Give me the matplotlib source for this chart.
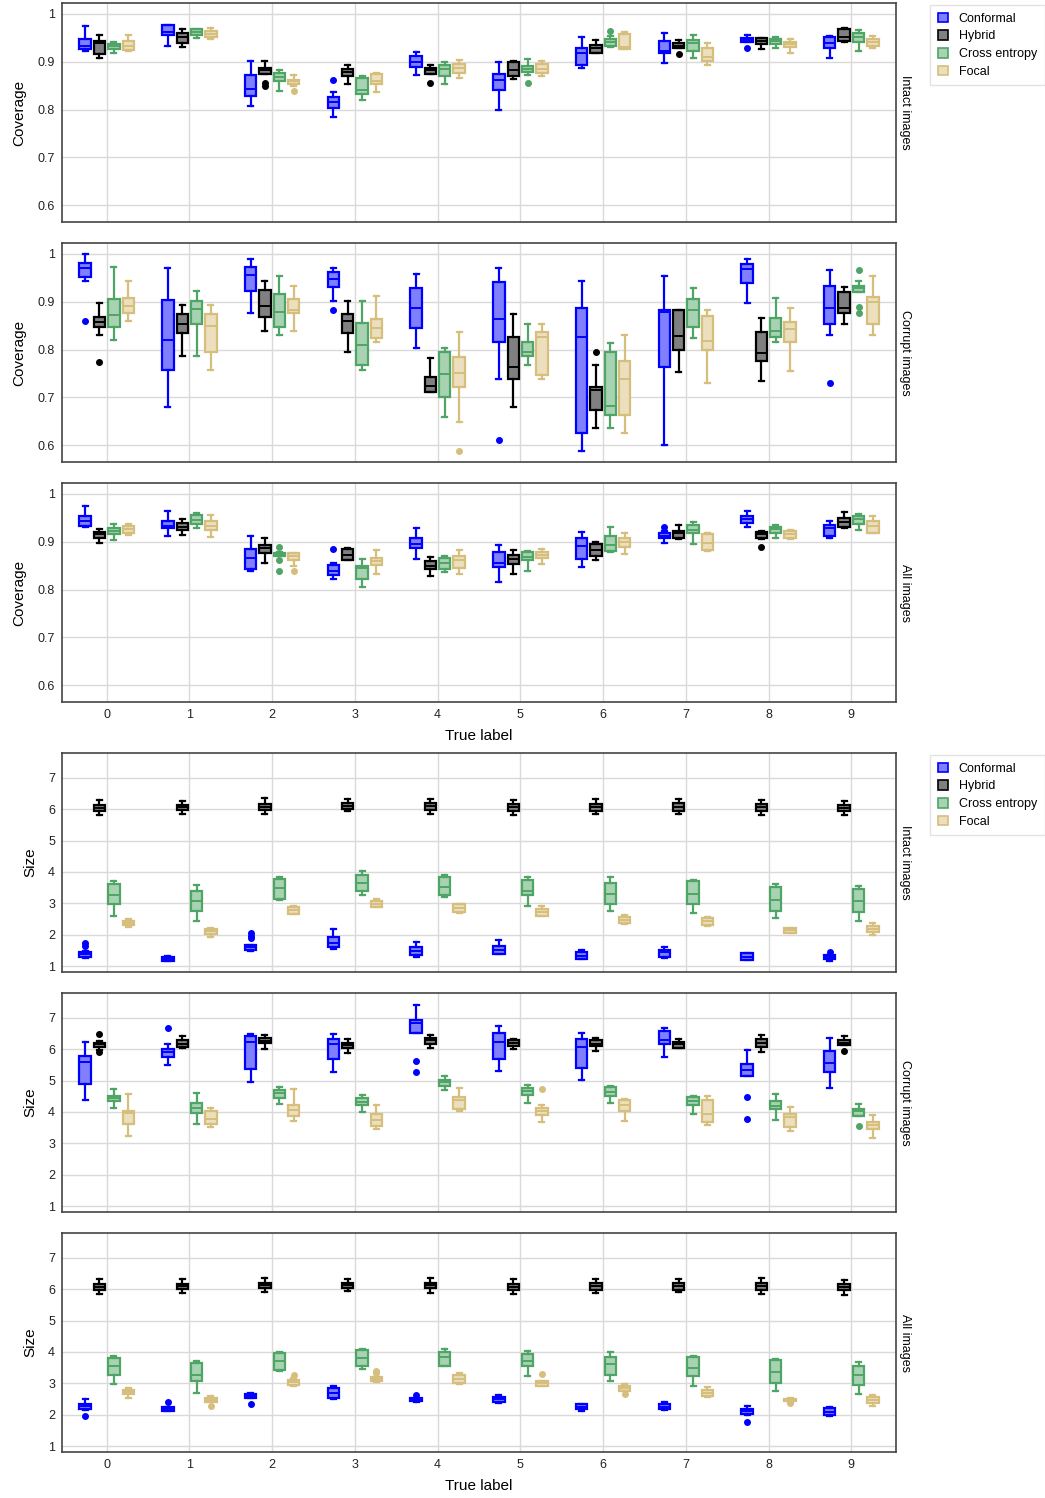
import numpy as np
import matplotlib
matplotlib.use('Agg')
import matplotlib.pyplot as plt
from matplotlib.patches import Patch
from matplotlib.ticker import FuncFormatter

plt.rcParams['font.family'] = ['Liberation Sans', 'DejaVu Sans']

methods = ['Conformal', 'Hybrid', 'Cross entropy', 'Focal']
edge_colors = ['#0000ff', '#000000', '#4fa565', '#d6bf7d']
fill_colors = ['#8080ff', '#808080', '#a8d3b2', '#ebdfbe']
class_labels = [str(i) for i in range(10)]

# each entry: (whisker low, q1, median, q3, whisker high, fliers)
cov_intact_conf = [
    (0.923, 0.926, 0.933, 0.947, 0.975, []),
    (0.934, 0.957, 0.963, 0.976, 0.978, []),
    (0.808, 0.828, 0.843, 0.873, 0.902, []),
    (0.784, 0.804, 0.815, 0.826, 0.836, [0.863]),
    (0.873, 0.889, 0.900, 0.913, 0.920, []),
    (0.799, 0.841, 0.863, 0.875, 0.900, []),
    (0.887, 0.893, 0.918, 0.928, 0.951, []),
    (0.898, 0.918, 0.923, 0.943, 0.960, []),
    (0.941, 0.941, 0.945, 0.949, 0.957, [0.929]),
    (0.909, 0.929, 0.940, 0.951, 0.953, []),
]
cov_intact_hyb = [
    (0.909, 0.916, 0.939, 0.944, 0.957, []),
    (0.932, 0.939, 0.951, 0.960, 0.969, []),
    (0.875, 0.875, 0.882, 0.888, 0.902, [0.855, 0.850]),
    (0.854, 0.870, 0.879, 0.886, 0.894, []),
    (0.875, 0.875, 0.882, 0.888, 0.893, [0.856]),
    (0.865, 0.870, 0.882, 0.900, 0.902, []),
    (0.918, 0.918, 0.928, 0.936, 0.946, []),
    (0.928, 0.928, 0.934, 0.939, 0.945, [0.916]),
    (0.926, 0.938, 0.944, 0.950, 0.950, []),
    (0.941, 0.943, 0.951, 0.969, 0.970, []),
]
cov_intact_ce = [
    (0.919, 0.927, 0.933, 0.938, 0.941, []),
    (0.949, 0.957, 0.963, 0.969, 0.969, []),
    (0.840, 0.860, 0.869, 0.876, 0.883, []),
    (0.820, 0.832, 0.841, 0.867, 0.870, []),
    (0.854, 0.870, 0.886, 0.893, 0.900, []),
    (0.873, 0.879, 0.885, 0.891, 0.905, [0.855]),
    (0.932, 0.933, 0.941, 0.947, 0.955, [0.964]),
    (0.907, 0.922, 0.939, 0.946, 0.957, []),
    (0.928, 0.938, 0.943, 0.947, 0.952, []),
    (0.923, 0.941, 0.951, 0.960, 0.967, []),
]
cov_intact_foc = [
    (0.923, 0.925, 0.934, 0.944, 0.957, []),
    (0.947, 0.951, 0.958, 0.965, 0.971, []),
    (0.850, 0.854, 0.859, 0.863, 0.873, [0.838]),
    (0.836, 0.854, 0.860, 0.875, 0.877, []),
    (0.866, 0.877, 0.887, 0.895, 0.904, []),
    (0.870, 0.876, 0.886, 0.895, 0.902, []),
    (0.926, 0.926, 0.932, 0.959, 0.962, []),
    (0.893, 0.902, 0.911, 0.928, 0.940, []),
    (0.918, 0.930, 0.937, 0.942, 0.948, []),
    (0.929, 0.933, 0.941, 0.948, 0.955, []),
]

cov_corrupt_conf = [
    (0.943, 0.951, 0.971, 0.982, 1.000, [0.859]),
    (0.680, 0.757, 0.821, 0.903, 0.971, []),
    (0.877, 0.923, 0.957, 0.972, 0.990, []),
    (0.902, 0.931, 0.947, 0.962, 0.971, [0.883]),
    (0.803, 0.845, 0.887, 0.928, 0.959, []),
    (0.738, 0.816, 0.865, 0.942, 0.971, [0.612]),
    (0.589, 0.626, 0.827, 0.888, 0.944, []),
    (0.601, 0.764, 0.879, 0.883, 0.953, []),
    (0.898, 0.939, 0.969, 0.980, 0.990, []),
    (0.831, 0.854, 0.888, 0.933, 0.967, [0.730]),
]
cov_corrupt_hyb = [
    (0.830, 0.848, 0.858, 0.868, 0.897, [0.774]),
    (0.786, 0.834, 0.854, 0.875, 0.893, []),
    (0.840, 0.868, 0.892, 0.925, 0.944, []),
    (0.796, 0.834, 0.860, 0.875, 0.902, []),
    (0.711, 0.711, 0.723, 0.743, 0.783, []),
    (0.680, 0.738, 0.763, 0.826, 0.874, []),
    (0.636, 0.673, 0.716, 0.721, 0.767, [0.794]),
    (0.753, 0.800, 0.829, 0.883, 0.883, []),
    (0.735, 0.776, 0.792, 0.837, 0.867, []),
    (0.854, 0.877, 0.888, 0.921, 0.932, []),
]
cov_corrupt_ce = [
    (0.821, 0.848, 0.873, 0.905, 0.972, []),
    (0.786, 0.854, 0.884, 0.902, 0.923, []),
    (0.830, 0.848, 0.878, 0.916, 0.953, []),
    (0.758, 0.767, 0.810, 0.855, 0.902, []),
    (0.660, 0.700, 0.748, 0.794, 0.804, []),
    (0.767, 0.787, 0.795, 0.816, 0.854, []),
    (0.636, 0.663, 0.683, 0.794, 0.813, []),
    (0.824, 0.847, 0.883, 0.906, 0.929, []),
    (0.817, 0.826, 0.838, 0.867, 0.909, []),
    (0.921, 0.921, 0.928, 0.933, 0.944, [0.967, 0.889, 0.877]),
]
cov_corrupt_foc = [
    (0.859, 0.877, 0.892, 0.907, 0.944, []),
    (0.758, 0.795, 0.849, 0.875, 0.893, []),
    (0.840, 0.877, 0.882, 0.906, 0.934, []),
    (0.816, 0.825, 0.845, 0.864, 0.913, []),
    (0.649, 0.722, 0.752, 0.784, 0.836, [0.588]),
    (0.738, 0.747, 0.826, 0.836, 0.854, []),
    (0.626, 0.663, 0.739, 0.776, 0.831, []),
    (0.730, 0.800, 0.819, 0.870, 0.883, []),
    (0.756, 0.816, 0.843, 0.858, 0.888, []),
    (0.831, 0.854, 0.900, 0.910, 0.955, []),
]

cov_all_conf = [
    (0.930, 0.934, 0.943, 0.953, 0.975, []),
    (0.913, 0.928, 0.934, 0.944, 0.964, []),
    (0.839, 0.844, 0.867, 0.885, 0.912, []),
    (0.823, 0.831, 0.840, 0.852, 0.856, [0.884]),
    (0.864, 0.887, 0.895, 0.909, 0.928, []),
    (0.817, 0.848, 0.856, 0.878, 0.893, []),
    (0.848, 0.864, 0.891, 0.909, 0.920, []),
    (0.898, 0.907, 0.913, 0.918, 0.922, [0.932]),
    (0.932, 0.940, 0.948, 0.955, 0.964, []),
    (0.909, 0.913, 0.928, 0.936, 0.943, []),
]
cov_all_hyb = [
    (0.898, 0.908, 0.916, 0.920, 0.926, []),
    (0.915, 0.925, 0.932, 0.939, 0.948, []),
    (0.856, 0.877, 0.888, 0.894, 0.907, []),
    (0.862, 0.862, 0.872, 0.884, 0.888, []),
    (0.829, 0.843, 0.850, 0.859, 0.868, []),
    (0.833, 0.854, 0.864, 0.872, 0.883, []),
    (0.861, 0.871, 0.883, 0.895, 0.900, []),
    (0.906, 0.909, 0.918, 0.923, 0.935, []),
    (0.906, 0.909, 0.916, 0.921, 0.923, [0.889]),
    (0.928, 0.932, 0.941, 0.950, 0.963, []),
]
cov_all_ce = [
    (0.904, 0.916, 0.923, 0.928, 0.938, []),
    (0.928, 0.937, 0.946, 0.957, 0.960, []),
    (0.870, 0.870, 0.873, 0.877, 0.878, [0.890, 0.861, 0.840]),
    (0.806, 0.822, 0.845, 0.850, 0.864, []),
    (0.836, 0.843, 0.856, 0.866, 0.870, []),
    (0.839, 0.861, 0.869, 0.879, 0.881, []),
    (0.879, 0.881, 0.893, 0.913, 0.932, []),
    (0.895, 0.918, 0.925, 0.935, 0.942, []),
    (0.908, 0.918, 0.926, 0.932, 0.936, []),
    (0.924, 0.938, 0.947, 0.954, 0.959, []),
]
cov_all_foc = [
    (0.915, 0.918, 0.927, 0.934, 0.938, []),
    (0.910, 0.925, 0.934, 0.944, 0.957, []),
    (0.850, 0.862, 0.870, 0.876, 0.877, [0.839]),
    (0.833, 0.851, 0.860, 0.866, 0.882, []),
    (0.833, 0.845, 0.862, 0.870, 0.882, []),
    (0.853, 0.866, 0.872, 0.879, 0.885, []),
    (0.875, 0.890, 0.900, 0.909, 0.918, []),
    (0.881, 0.882, 0.898, 0.916, 0.918, []),
    (0.905, 0.909, 0.916, 0.923, 0.925, []),
    (0.919, 0.919, 0.933, 0.944, 0.955, []),
]

size_intact_conf = [
    (1.25, 1.30, 1.37, 1.45, 1.47, [1.72, 1.65]),
    (1.15, 1.16, 1.24, 1.30, 1.33, []),
    (1.48, 1.51, 1.60, 1.67, 1.67, [2.04, 1.96, 1.88]),
    (1.55, 1.60, 1.72, 1.92, 2.17, []),
    (1.29, 1.36, 1.47, 1.60, 1.77, []),
    (1.37, 1.37, 1.50, 1.64, 1.82, []),
    (1.21, 1.22, 1.33, 1.44, 1.51, []),
    (1.25, 1.28, 1.44, 1.51, 1.61, []),
    (1.18, 1.19, 1.30, 1.41, 1.42, []),
    (1.16, 1.22, 1.30, 1.35, 1.35, [1.46]),
]
size_intact_hyb = [
    (5.81, 5.94, 6.04, 6.13, 6.30, []),
    (5.83, 5.97, 6.06, 6.14, 6.27, []),
    (5.86, 5.98, 6.08, 6.16, 6.34, []),
    (5.93, 6.01, 6.11, 6.19, 6.33, []),
    (5.84, 5.97, 6.09, 6.19, 6.33, []),
    (5.81, 5.95, 6.06, 6.15, 6.30, []),
    (5.84, 5.93, 6.06, 6.16, 6.32, []),
    (5.86, 5.94, 6.08, 6.19, 6.32, []),
    (5.81, 5.94, 6.06, 6.16, 6.30, []),
    (5.80, 5.95, 6.04, 6.13, 6.26, []),
]
size_intact_ce = [
    (2.61, 2.97, 3.25, 3.60, 3.71, []),
    (2.45, 2.74, 3.08, 3.38, 3.58, []),
    (3.10, 3.15, 3.49, 3.77, 3.85, []),
    (3.28, 3.38, 3.66, 3.89, 4.04, []),
    (3.20, 3.28, 3.53, 3.83, 3.91, []),
    (2.92, 3.25, 3.40, 3.74, 3.85, []),
    (2.74, 2.98, 3.30, 3.65, 3.84, []),
    (2.69, 2.99, 3.30, 3.71, 3.75, []),
    (2.53, 2.76, 3.10, 3.53, 3.62, []),
    (2.44, 2.72, 3.07, 3.44, 3.55, []),
]
size_intact_foc = [
    (2.23, 2.31, 2.37, 2.44, 2.50, []),
    (1.94, 2.03, 2.11, 2.18, 2.22, []),
    (2.66, 2.66, 2.78, 2.89, 2.91, []),
    (2.87, 2.87, 2.99, 3.07, 3.15, []),
    (2.68, 2.71, 2.84, 2.97, 2.98, []),
    (2.61, 2.61, 2.71, 2.82, 2.92, []),
    (2.35, 2.36, 2.47, 2.55, 2.64, []),
    (2.28, 2.30, 2.42, 2.53, 2.55, []),
    (2.06, 2.06, 2.15, 2.21, 2.22, []),
    (1.99, 2.08, 2.19, 2.29, 2.36, []),
]

size_corrupt_conf = [
    (4.39, 4.88, 5.60, 5.78, 6.24, []),
    (5.48, 5.75, 5.91, 6.02, 6.18, [6.69]),
    (4.96, 5.38, 6.23, 6.43, 6.47, []),
    (5.26, 5.69, 6.16, 6.33, 6.49, []),
    (6.52, 6.52, 6.84, 6.94, 7.42, [5.61, 5.27]),
    (5.31, 5.70, 6.24, 6.51, 6.75, []),
    (5.01, 5.40, 6.06, 6.33, 6.53, []),
    (5.75, 6.18, 6.29, 6.59, 6.66, []),
    (5.15, 5.15, 5.35, 5.54, 5.97, [4.46, 3.77]),
    (4.76, 5.26, 5.55, 5.93, 6.34, []),
]
size_corrupt_hyb = [
    (5.97, 6.08, 6.15, 6.20, 6.26, [6.47, 5.90]),
    (6.03, 6.06, 6.18, 6.29, 6.42, []),
    (6.02, 6.19, 6.27, 6.35, 6.45, []),
    (5.87, 6.04, 6.14, 6.21, 6.31, []),
    (6.04, 6.16, 6.28, 6.37, 6.45, []),
    (6.00, 6.11, 6.20, 6.30, 6.32, []),
    (5.95, 6.10, 6.18, 6.28, 6.34, []),
    (6.03, 6.03, 6.15, 6.23, 6.33, []),
    (5.92, 6.08, 6.19, 6.31, 6.46, []),
    (6.12, 6.12, 6.20, 6.28, 6.43, [5.94]),
]
size_corrupt_ce = [
    (4.11, 4.34, 4.45, 4.52, 4.73, []),
    (3.61, 3.96, 4.14, 4.29, 4.60, []),
    (4.24, 4.43, 4.59, 4.71, 4.79, []),
    (4.00, 4.22, 4.32, 4.43, 4.54, []),
    (4.70, 4.83, 4.94, 5.03, 5.16, []),
    (4.29, 4.54, 4.66, 4.77, 4.85, []),
    (4.27, 4.52, 4.64, 4.80, 4.82, []),
    (3.93, 4.22, 4.36, 4.48, 4.51, []),
    (3.74, 4.08, 4.19, 4.36, 4.56, []),
    (3.88, 3.88, 4.03, 4.10, 4.24, [3.56]),
]
size_corrupt_foc = [
    (3.24, 3.61, 3.96, 4.04, 4.56, []),
    (3.53, 3.61, 3.78, 4.02, 4.14, []),
    (3.71, 3.87, 4.05, 4.22, 4.73, []),
    (3.46, 3.55, 3.74, 3.94, 4.23, []),
    (4.02, 4.09, 4.37, 4.48, 4.76, []),
    (3.68, 3.89, 4.03, 4.14, 4.22, [4.72]),
    (3.72, 4.03, 4.23, 4.38, 4.42, []),
    (3.57, 3.69, 3.93, 4.37, 4.51, []),
    (3.38, 3.51, 3.83, 3.92, 4.16, []),
    (3.18, 3.44, 3.57, 3.69, 3.91, []),
]

size_all_conf = [
    (2.15, 2.17, 2.28, 2.34, 2.49, [1.97]),
    (2.12, 2.12, 2.18, 2.25, 2.25, [2.40]),
    (2.53, 2.53, 2.59, 2.65, 2.70, [2.33]),
    (2.51, 2.54, 2.70, 2.86, 2.91, []),
    (2.39, 2.45, 2.49, 2.53, 2.53, [2.64]),
    (2.38, 2.40, 2.49, 2.57, 2.64, []),
    (2.12, 2.18, 2.25, 2.33, 2.35, []),
    (2.14, 2.18, 2.25, 2.33, 2.40, []),
    (1.99, 2.01, 2.11, 2.17, 2.27, [1.76]),
    (1.97, 1.99, 2.10, 2.20, 2.24, []),
]
size_all_hyb = [
    (5.85, 5.97, 6.07, 6.16, 6.33, []),
    (5.89, 6.00, 6.10, 6.18, 6.31, []),
    (5.91, 6.03, 6.12, 6.21, 6.37, []),
    (5.93, 6.04, 6.13, 6.21, 6.33, []),
    (5.89, 6.03, 6.13, 6.21, 6.35, []),
    (5.85, 5.97, 6.08, 6.18, 6.31, []),
    (5.87, 5.97, 6.09, 6.19, 6.33, []),
    (5.91, 5.97, 6.09, 6.19, 6.33, []),
    (5.84, 5.97, 6.10, 6.19, 6.34, []),
    (5.82, 5.97, 6.08, 6.15, 6.30, []),
]
size_all_ce = [
    (2.99, 3.28, 3.55, 3.82, 3.88, []),
    (2.70, 3.08, 3.26, 3.65, 3.71, []),
    (3.39, 3.42, 3.72, 3.96, 3.99, []),
    (3.44, 3.55, 3.82, 4.06, 4.09, []),
    (3.55, 3.55, 3.84, 4.00, 4.09, []),
    (3.24, 3.55, 3.72, 3.92, 4.04, []),
    (3.06, 3.27, 3.60, 3.85, 3.99, []),
    (2.90, 3.24, 3.50, 3.84, 3.87, []),
    (2.77, 3.00, 3.36, 3.73, 3.78, []),
    (2.66, 2.96, 3.25, 3.56, 3.68, []),
]
size_all_foc = [
    (2.52, 2.65, 2.71, 2.79, 2.86, []),
    (2.40, 2.40, 2.46, 2.52, 2.59, [2.28]),
    (2.92, 2.94, 3.03, 3.10, 3.17, [3.27]),
    (3.03, 3.08, 3.15, 3.20, 3.21, [3.40, 3.32]),
    (2.98, 3.00, 3.13, 3.25, 3.32, []),
    (2.91, 2.91, 3.00, 3.08, 3.08, [3.30]),
    (2.76, 2.76, 2.85, 2.92, 2.99, [2.65]),
    (2.56, 2.58, 2.70, 2.79, 2.89, []),
    (2.36, 2.43, 2.48, 2.51, 2.52, [2.36]),
    (2.29, 2.36, 2.46, 2.55, 2.63, []),
]

panels = [
    ('Coverage', 'Intact images', [cov_intact_conf, cov_intact_hyb, cov_intact_ce, cov_intact_foc]),
    ('Coverage', 'Corrupt images', [cov_corrupt_conf, cov_corrupt_hyb, cov_corrupt_ce, cov_corrupt_foc]),
    ('Coverage', 'All images', [cov_all_conf, cov_all_hyb, cov_all_ce, cov_all_foc]),
    ('Size', 'Intact images', [size_intact_conf, size_intact_hyb, size_intact_ce, size_intact_foc]),
    ('Size', 'Corrupt images', [size_corrupt_conf, size_corrupt_hyb, size_corrupt_ce, size_corrupt_foc]),
    ('Size', 'All images', [size_all_conf, size_all_hyb, size_all_ce, size_all_foc]),
]
panel_tops = [3, 243, 483, 753, 993, 1233]

W, H = 1045, 1498
fig = plt.figure(figsize=(W / 100, H / 100), dpi=100)
offsets = [-0.26, -0.087, 0.087, 0.26]
x = np.arange(len(class_labels))

for i, (ylab, strip, series) in enumerate(panels):
    top = panel_tops[i]
    ax = fig.add_axes([62 / W, 1 - (top + 219) / H, 834 / W, 219 / H])
    for m, data in enumerate(series):
        stats = [dict(whislo=d[0], q1=d[1], med=d[2], q3=d[3], whishi=d[4], fliers=d[5])
                 for d in data]
        ec, fc = edge_colors[m], fill_colors[m]
        ax.bxp(stats, positions=x + offsets[m], widths=0.137, patch_artist=True,
               manage_ticks=False, capwidths=0.06,
               boxprops=dict(facecolor=fc, edgecolor=ec, linewidth=1.6),
               medianprops=dict(color=ec, linewidth=1.4),
               whiskerprops=dict(color=ec, linewidth=1.6),
               capprops=dict(color=ec, linewidth=1.6),
               flierprops=dict(marker='o', markerfacecolor=ec, markeredgecolor=ec,
                               markersize=4))
    ax.set_xlim(-0.54, 9.54)
    ax.set_xticks(x)
    if ylab == 'Coverage':
        ax.set_ylim(0.565, 1.023)
        ax.set_yticks([0.6, 0.7, 0.8, 0.9, 1.0])
        ax.yaxis.set_major_formatter(FuncFormatter(lambda v, p: f'{v:g}'))
    else:
        ax.set_ylim(0.81, 7.79)
        ax.set_yticks(range(1, 8))
    ax.grid(True, color='#d9d9d9', linewidth=1)
    ax.set_axisbelow(True)
    ax.tick_params(length=0, labelsize=9, pad=5, colors='#222222')
    for s in ax.spines.values():
        s.set_color('#444444')
        s.set_linewidth(1.2)
    ax.set_ylabel(ylab, fontsize=11, labelpad=8)
    if i in (2, 5):
        ax.set_xticklabels(class_labels)
        ax.set_xlabel('True label', fontsize=11, labelpad=6)
    else:
        ax.set_xticklabels([])
    ax.text(1.003, 0.5, strip, transform=ax.transAxes, rotation=-90,
            va='center', ha='left', fontsize=9)

handles = [Patch(facecolor=fill_colors[m], edgecolor=edge_colors[m], linewidth=1.2,
                 label=methods[m]) for m in range(4)]
for top in (5, 755):
    fig.legend(handles=handles, loc='upper left', bbox_to_anchor=(930 / W, 1 - top / H),
               borderaxespad=0, fontsize=9, frameon=True, fancybox=False,
               edgecolor='#dddddd', handlelength=0.8, handleheight=0.8,
               borderpad=0.6, labelspacing=0.45, handletextpad=0.9)

fig.savefig('out.png', dpi=100)
